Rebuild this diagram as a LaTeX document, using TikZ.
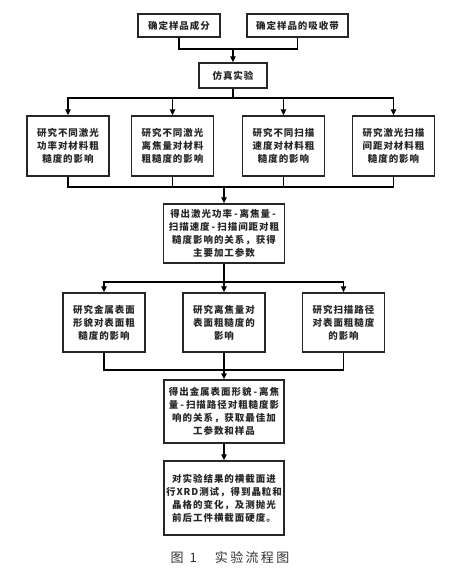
\documentclass[tikz,border=0pt]{standalone}
\usepackage{fontspec}
\newfontfamily\cjk[LetterSpace=10]{Noto Sans CJK SC}
\newfontfamily\cjkcap[LetterSpace=18]{Noto Sans CJK SC}
\newcommand\dsh{\kern2pt-\kern2pt}
\usetikzlibrary{arrows.meta}
\begin{document}
\begin{tikzpicture}[x=1pt,y=-1pt,
  box/.style={draw=black!85,line width=1.4pt,inner sep=0pt,align=center,
    font=\cjk\bfseries\fontsize{9.5}{13}\selectfont,text=black!85},
  line/.style={line width=1.3pt},
  arr/.style={line width=1.3pt,-{Triangle[length=6pt,width=5.5pt]}}]
\useasboundingbox (0,0) rectangle (462,571);

\node[box,minimum width=82pt,minimum height=23pt] (comp) at (179,25.5) {确定样品成分};
\node[box,minimum width=101pt,minimum height=23pt] (band) at (297.5,25.5) {确定样品的吸收带};
\node[box,minimum width=68pt,minimum height=25pt] (sim) at (233,75.5) {仿真实验};

\node[box,minimum width=82pt,minimum height=60pt] (r1) at (68,146) {研究不同激光\\功率对材料粗\\糙度的影响};
\node[box,minimum width=82pt,minimum height=60pt] (r2) at (172.5,146) {研究不同激光\\离焦量对材料\\粗糙度的影响};
\node[box,minimum width=82pt,minimum height=60pt] (r3) at (283.5,146) {研究不同扫描\\速度对材料粗\\糙度的影响};
\node[box,minimum width=82pt,minimum height=60pt] (r4) at (393.5,146) {研究激光扫描\\间距对材料粗\\糙度的影响};

\node[box,minimum width=121pt,minimum height=59pt] (rel1) at (224,233.5) {得出激光功率\dsh 离焦量\dsh\\扫描速度\dsh 扫描间距对粗\\糙度影响的关系，获得\\主要加工参数};

\node[box,minimum width=82pt,minimum height=59pt] (s1) at (104,322.5) {研究金属表面\\形貌对表面粗\\糙度的影响};
\node[box,minimum width=82pt,minimum height=59pt] (s2) at (224,322.5) {研究离焦量对\\表面粗糙度的\\影响};
\node[box,minimum width=82pt,minimum height=59pt] (s3) at (343.5,322.5) {研究扫描路径\\对表面粗糙度\\的影响};

\node[box,minimum width=120pt,minimum height=63pt] (rel2) at (224,411.5) {得出金属表面形貌\dsh 离焦\\量\dsh 扫描路径对粗糙度影\\响的关系，获取最佳加\\工参数和样品};
\node[box,minimum width=120pt,minimum height=74pt] (xrd) at (224,498) {对实验结果的横截面进\\行XRD测试，得到晶粒和\\晶格的变化，及测抛光\\前后工件横截面硬度。};

\node[font=\cjkcap\fontsize{13}{15}\selectfont,text=black!80] (cap) at (230,558) {图\hspace{6pt}1\hspace{18pt}实验流程图};

\coordinate (j1) at (233,49);
\draw[line] (comp.south) |- (j1) -| (band.south);
\draw[arr] (j1) -- (sim.north);

\coordinate (j2) at (233,98);
\draw[line] (sim.south) -- (j2);
\foreach \n in {r1,r2,r3,r4} \draw[arr] (j2) -| (\n.north);

\coordinate (j3) at (224,187);
\foreach \n in {r1,r2,r3,r4} \draw[line] (\n.south) |- (j3);
\draw[arr] (j3) -- (rel1.north);

\coordinate (j4) at (224,282);
\draw[line] (rel1.south) -- (j4);
\foreach \n in {s1,s2,s3} \draw[arr] (j4) -| (\n.north);

\coordinate (j5) at (224,370);
\foreach \n in {s1,s2,s3} \draw[line] (\n.south) |- (j5);
\draw[arr] (j5) -- (rel2.north);
\draw[arr] (rel2.south) -- (xrd.north);
\end{tikzpicture}
\end{document}
